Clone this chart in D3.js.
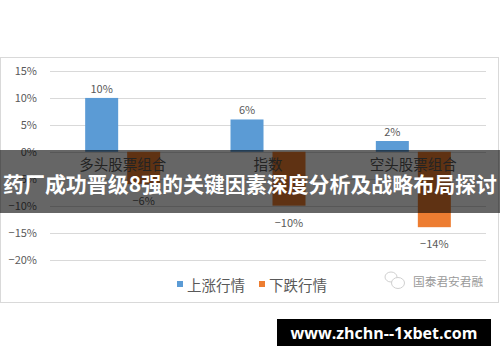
<!DOCTYPE html>
<html><head><meta charset="utf-8">
<script src="https://cdn.jsdelivr.net/npm/d3@7/dist/d3.min.js"></script>
<style>html,body{margin:0;padding:0;background:#fff;}svg{display:block;}</style>
</head><body>
<svg id="c" width="500" height="362"></svg>
<script>
const categories = ["多头股票组合", "指数", "空头股票组合"];
const seriesNames = ["上涨行情", "下跌行情"];
const upValues = [0.10, 0.06, 0.02];
const downValues = [-0.06, -0.10, -0.14];
const yTicks = [0.15, 0.10, 0.05, 0, -0.05, -0.10, -0.15, -0.20];
const colors = ["#5B9BD5", "#ED7D31"];
const bannerTitle = "药厂成功晋级8强的关键因素深度分析及战略布局探讨";
const siteText = "www.zhchn--1xbet.com";
const watermarkText = "国泰君安君融";

const svg = d3.select("#c");
const font = "'Noto Sans CJK SC','Noto Sans',sans-serif";
const pct = v => { const n = Math.round(v*100); return (n < 0 ? "\u2212" + (-n) : n) + "%"; };

// frame
svg.append("rect").attr("x",0.5).attr("y",57.5).attr("width",498).attr("height",245)
  .attr("fill","#fff").attr("stroke","#d9d9d9");

const y = d3.scaleLinear().domain([-0.20, 0.15]).range([259.5, 71]);
const x0 = d3.scaleBand().domain(categories).range([50, 486]);
const bw = x0.bandwidth();
const x1 = d3.scaleBand().domain(seriesNames).range([bw/2-37.5, bw/2+37.5]).paddingInner(0.214);

// gridlines
svg.append("g").selectAll("line").data(yTicks).join("line")
  .attr("x1",50).attr("x2",486)
  .attr("y1",d=>Math.round(y(d))+0.5).attr("y2",d=>Math.round(y(d))+0.5)
  .attr("stroke","#d9d9d9").attr("stroke-width",1);

// y axis labels
const yAxis = d3.axisLeft(y).tickValues(yTicks).tickSize(0).tickPadding(0).tickFormat(pct);
const ya = svg.append("g").attr("transform","translate(37,0)").call(yAxis);
ya.select(".domain").remove();
ya.selectAll("text").attr("font-family",font).attr("font-size",11).attr("fill","#595959");

const data = categories.map((c,i)=>({cat:c, vals:[upValues[i], downValues[i]]}));

const g = svg.append("g");
data.forEach(d=>{
  d.vals.forEach((v,j)=>{
    const xx = x0(d.cat) + x1(seriesNames[j]);
    g.append("rect").attr("x",xx).attr("width",x1.bandwidth())
      .attr("y",Math.min(y(v),y(0))).attr("height",Math.abs(y(v)-y(0)))
      .attr("fill",colors[j]);
    g.append("text").attr("x",xx+x1.bandwidth()/2)
      .attr("y", v>=0 ? y(v)-10 : y(v)+16)
      .attr("text-anchor","middle").attr("dominant-baseline","central")
      .attr("font-family",font).attr("font-size",11).attr("fill","#595959")
      .text(pct(v));
  });
});

// category labels
const xAxis = d3.axisBottom(x0).tickSize(0).tickPadding(0);
const xa = svg.append("g").attr("transform","translate(0,160)").call(xAxis);
xa.select(".domain").remove();
xa.selectAll("text").attr("font-family",font).attr("font-size",14.5).attr("fill","#595959");

// legend
const lg = svg.append("g");
const legX = [177, 259];
seriesNames.forEach((s,j)=>{
  lg.append("rect").attr("x",legX[j]).attr("y",281).attr("width",6).attr("height",6).attr("fill",colors[j]);
  lg.append("text").attr("x",legX[j]+10).attr("y",284).attr("dominant-baseline","central")
    .attr("font-family",font).attr("font-size",14.5).attr("fill","#595959").text(s);
});

// watermark
const wm = svg.append("g");
wm.append("ellipse").attr("cx",391).attr("cy",277).attr("rx",6).attr("ry",5).attr("fill","none").attr("stroke","#d0d0d0").attr("stroke-width",1);
wm.append("ellipse").attr("cx",398).attr("cy",283).attr("rx",6.5).attr("ry",5.5).attr("fill","#fff").attr("stroke","#d0d0d0").attr("stroke-width",1);
wm.append("text").attr("x",413).attr("y",280).attr("dominant-baseline","central")
  .attr("font-family",font).attr("font-size",11.7).attr("fill","#9a9a9a").text(watermarkText);

// overlay banner
svg.append("rect").attr("x",0).attr("y",150).attr("width",500).attr("height",63).attr("fill","rgba(0,0,0,0.6)");
svg.append("text").attr("x",250).attr("y",183).attr("text-anchor","middle").attr("dominant-baseline","central")
  .attr("font-family",font).attr("font-weight","bold").attr("font-size",21).attr("fill","#fff")
  .attr("textLength",494).attr("lengthAdjust","spacingAndGlyphs").text(bannerTitle);

// site banner
svg.append("rect").attr("x",277).attr("y",319).attr("width",214).attr("height",27).attr("fill","#000");
svg.append("text").attr("x",384).attr("y",332.5).attr("text-anchor","middle").attr("dominant-baseline","central")
  .attr("font-family","'Open Sans','Noto Sans',sans-serif").attr("font-weight","bold").attr("font-size",16).attr("fill","#fff")
  .text(siteText);
</script>
</body></html>
